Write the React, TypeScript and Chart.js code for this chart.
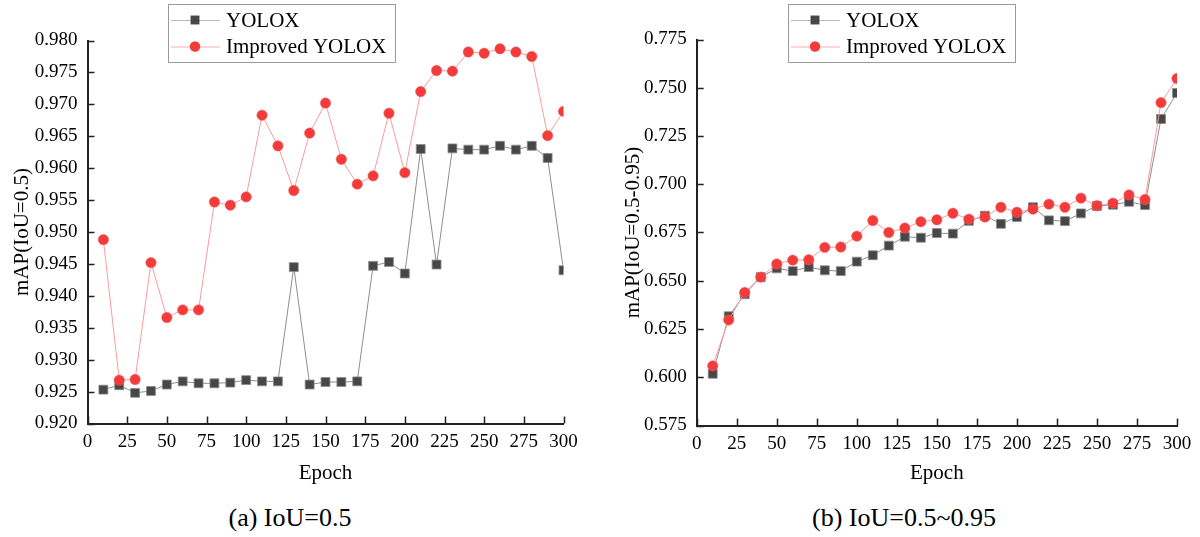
import React, { useEffect, useRef } from 'react';
import { Chart, registerables } from 'chart.js';

Chart.register(...registerables);

const SERIF = '"Liberation Serif", "Times New Roman", serif';

// Epochs (x values)
const epochs = [10, 20, 30, 40, 50, 60, 70, 80, 90, 100, 110, 120, 130, 140, 150, 160, 170, 180, 190, 200, 210, 220, 230, 240, 250, 260, 270, 280, 290, 300];

// (a) IoU=0.5
const yoloxA = [0.9253, 0.9260, 0.9248, 0.9251, 0.9261, 0.9266, 0.9263, 0.9263, 0.9264, 0.9268, 0.9266, 0.9266, 0.9445, 0.9261, 0.9265, 0.9265, 0.9266, 0.9447, 0.9453, 0.9435, 0.9630, 0.9449, 0.9631, 0.9629, 0.9629, 0.9635, 0.9629, 0.9635, 0.9616, 0.9440];
const improvedA = [0.9488, 0.9268, 0.9269, 0.9452, 0.9366, 0.9378, 0.9378, 0.9547, 0.9542, 0.9555, 0.9683, 0.9635, 0.9565, 0.9655, 0.9702, 0.9614, 0.9575, 0.9588, 0.9686, 0.9593, 0.9720, 0.9753, 0.9752, 0.9782, 0.9780, 0.9787, 0.9782, 0.9775, 0.9651, 0.9689];

// (b) IoU=0.5~0.95
const yoloxB = [0.6018, 0.6316, 0.6430, 0.6519, 0.6564, 0.6550, 0.6571, 0.6554, 0.6550, 0.6599, 0.6632, 0.6682, 0.6728, 0.6723, 0.6747, 0.6744, 0.6810, 0.6837, 0.6795, 0.6830, 0.6881, 0.6813, 0.6809, 0.6849, 0.6887, 0.6894, 0.6909, 0.6892, 0.7338, 0.7473];
const improvedB = [0.6059, 0.6297, 0.6439, 0.6519, 0.6587, 0.6607, 0.6609, 0.6673, 0.6675, 0.6731, 0.6812, 0.6750, 0.6773, 0.6806, 0.6816, 0.6850, 0.6819, 0.6830, 0.6881, 0.6855, 0.6871, 0.6897, 0.6881, 0.6928, 0.6889, 0.6902, 0.6945, 0.6921, 0.7423, 0.7548];

const seriesLabels = ['YOLOX', 'Improved YOLOX'];
const xAxisRange = [0, 300];
const xTickStep = 25;
const yRangeA = [0.92, 0.98];
const yStepA = 0.005;
const yRangeB = [0.575, 0.775];
const yStepB = 0.025;

const inwardTicks = {
  id: 'inwardTicks',
  afterDraw(chart: any) {
    const { ctx, chartArea, scales } = chart;
    const xs = scales.x;
    const ys = scales.y;
    const len = 7;
    ctx.save();
    ctx.strokeStyle = '#222';
    ctx.lineWidth = 1.5;
    ctx.beginPath();
    xs.ticks.forEach((_t: any, i: number) => {
      const px = Math.round(xs.getPixelForTick(i)) + 0.5;
      ctx.moveTo(px, chartArea.bottom);
      ctx.lineTo(px, chartArea.bottom - len);
    });
    ys.ticks.forEach((_t: any, i: number) => {
      const py = Math.round(ys.getPixelForTick(i)) + 0.5;
      ctx.moveTo(chartArea.left, py);
      ctx.lineTo(chartArea.left + len, py);
    });
    ctx.stroke();
    ctx.restore();
  },
};

const boxLegend = {
  id: 'boxLegend',
  afterDraw(chart: any, _args: any, opts: any) {
    if (!opts || !opts.box) return;
    const { ctx } = chart;
    const { x, y, w, h } = opts.box;
    ctx.save();
    ctx.fillStyle = '#fff';
    ctx.fillRect(x, y, w, h);
    ctx.strokeStyle = '#9a9a9a';
    ctx.lineWidth = 1;
    ctx.strokeRect(x + 0.5, y + 0.5, w, h);
    const rows = opts.rows as number[];
    const dsList = chart.data.datasets;
    dsList.forEach((ds: any, i: number) => {
      const ry = rows[i];
      ctx.strokeStyle = ds.legendLine || ds.borderColor;
      ctx.lineWidth = 1;
      ctx.beginPath();
      ctx.moveTo(x + 3, ry + 0.5);
      ctx.lineTo(x + 52, ry + 0.5);
      ctx.stroke();
      const mx = x + 27;
      ctx.fillStyle = ds.pointBackgroundColor;
      if (ds.pointStyle === 'rect') {
        const s = Math.SQRT1_2 * ds.pointRadius;
        ctx.fillRect(mx - s, ry - s, 2 * s, 2 * s);
      } else {
        ctx.beginPath();
        ctx.arc(mx, ry, ds.pointRadius, 0, Math.PI * 2);
        ctx.fill();
      }
      ctx.fillStyle = '#000';
      ctx.font = `21px ${SERIF}`;
      ctx.textBaseline = 'middle';
      ctx.textAlign = 'left';
      ctx.fillText(ds.label, x + 58, ry + 1);
    });
    ctx.restore();
  },
};

function makeDatasets(a: number[], b: number[]) {
  return [
    {
      label: seriesLabels[0],
      data: epochs.map((e, i) => ({ x: e, y: a[i] })),
      borderColor: '#8e8e8e',
      legendLine: '#b8b8b8',
      borderWidth: 1,
      pointStyle: 'rect',
      pointRadius: 6.3,
      pointBackgroundColor: '#474747',
      pointBorderColor: '#8a8a8a',
      pointBorderWidth: 0.8,
      tension: 0,
      order: 2,
    },
    {
      label: seriesLabels[1],
      data: epochs.map((e, i) => ({ x: e, y: b[i] })),
      borderColor: '#ff9a9a',
      legendLine: '#ffadad',
      borderWidth: 1,
      pointStyle: 'circle',
      pointRadius: 5.2,
      pointBackgroundColor: '#f43b3b',
      pointBorderColor: '#f55a5a',
      pointBorderWidth: 0.5,
      tension: 0,
      order: 1,
    },
  ];
}

type Geo = {
  padTop: number;
  padRight: number;
  padBottom: number;
  yWidth: number;
  xHeight: number;
  yTitlePad: number;
  legendX: number;
};

function makeConfig(a: number[], b: number[], yRange: number[], yStep: number, yTitle: string, g: Geo): any {
  const tickFont = { family: SERIF, size: 19 };
  const titleFont = { family: SERIF, size: 21 };
  return {
    type: 'line',
    data: { datasets: makeDatasets(a, b) },
    options: {
      responsive: false,
      animation: false,
      events: [],
      layout: { padding: { left: 0, top: g.padTop, right: g.padRight, bottom: g.padBottom } },
      plugins: {
        legend: { display: false },
        tooltip: { enabled: false },
        boxLegend: { box: { x: g.legendX, y: 4, w: 227, h: 58 }, rows: [20, 46.5] },
      },
      scales: {
        x: {
          type: 'linear',
          min: xAxisRange[0],
          max: xAxisRange[1],
          ticks: { stepSize: xTickStep, font: tickFont, color: '#000', padding: 7, maxRotation: 0, autoSkip: false },
          grid: { display: false, drawTicks: false },
          border: { display: true, color: '#222', width: 2 },
          title: { display: true, text: 'Epoch', font: titleFont, color: '#000', padding: 0 },
          afterFit: (s: any) => {
            s.height = g.xHeight;
          },
        },
        y: {
          type: 'linear',
          min: yRange[0],
          max: yRange[1],
          ticks: {
            stepSize: yStep,
            font: tickFont,
            color: '#000',
            padding: 10,
            autoSkip: false,
            callback: (v: any) => Number(v).toFixed(3),
          },
          grid: { display: false, drawTicks: false },
          border: { display: true, color: '#222', width: 2 },
          title: { display: true, text: yTitle, font: titleFont, color: '#000', padding: { top: g.yTitlePad, bottom: 0 } },
          afterFit: (s: any) => {
            s.width = g.yWidth;
          },
        },
      },
    },
    plugins: [inwardTicks, boxLegend],
  };
}

function ChartPanel(props: { config: any; left: number }) {
  const ref = useRef<HTMLCanvasElement | null>(null);
  useEffect(() => {
    if (!ref.current) return;
    const chart = new Chart(ref.current, props.config);
    return () => chart.destroy();
  }, []);
  return (
    <div style={{ position: 'absolute', left: props.left, top: 0, width: 600, height: 500 }}>
      <canvas ref={ref} width={600} height={500} style={{ width: 600, height: 500, display: 'block' }} />
    </div>
  );
}

export default function App() {
  const cfgA = makeConfig(yoloxA, improvedA, yRangeA, yStepA, 'mAP(IoU=0.5)', {
    padTop: 40.5,
    padRight: 36.5,
    padBottom: 14,
    yWidth: 87.5,
    xHeight: 62.5,
    yTitlePad: 9.5,
    legendX: 168,
  });
  const cfgB = makeConfig(yoloxB, improvedB, yRangeB, yStepB, 'mAP(IoU=0.5-0.95)', {
    padTop: 39.5,
    padRight: 23,
    padBottom: 14,
    yWidth: 96.7,
    xHeight: 60.5,
    yTitlePad: 20.5,
    legendX: 188,
  });
  const caption: React.CSSProperties = {
    position: 'absolute',
    top: 503,
    width: 240,
    textAlign: 'center',
    fontFamily: SERIF,
    fontSize: 26,
    lineHeight: '30px',
    color: '#000',
    whiteSpace: 'nowrap',
  };
  return (
    <div style={{ position: 'fixed', left: 0, top: 0, width: 1200, height: 537, background: '#fff', overflow: 'hidden' }}>
      <ChartPanel config={cfgA} left={0} />
      <ChartPanel config={cfgB} left={600} />
      <div style={{ ...caption, left: 170 }}>(a) IoU=0.5</div>
      <div style={{ ...caption, left: 784 }}>(b) IoU=0.5~0.95</div>
    </div>
  );
}
